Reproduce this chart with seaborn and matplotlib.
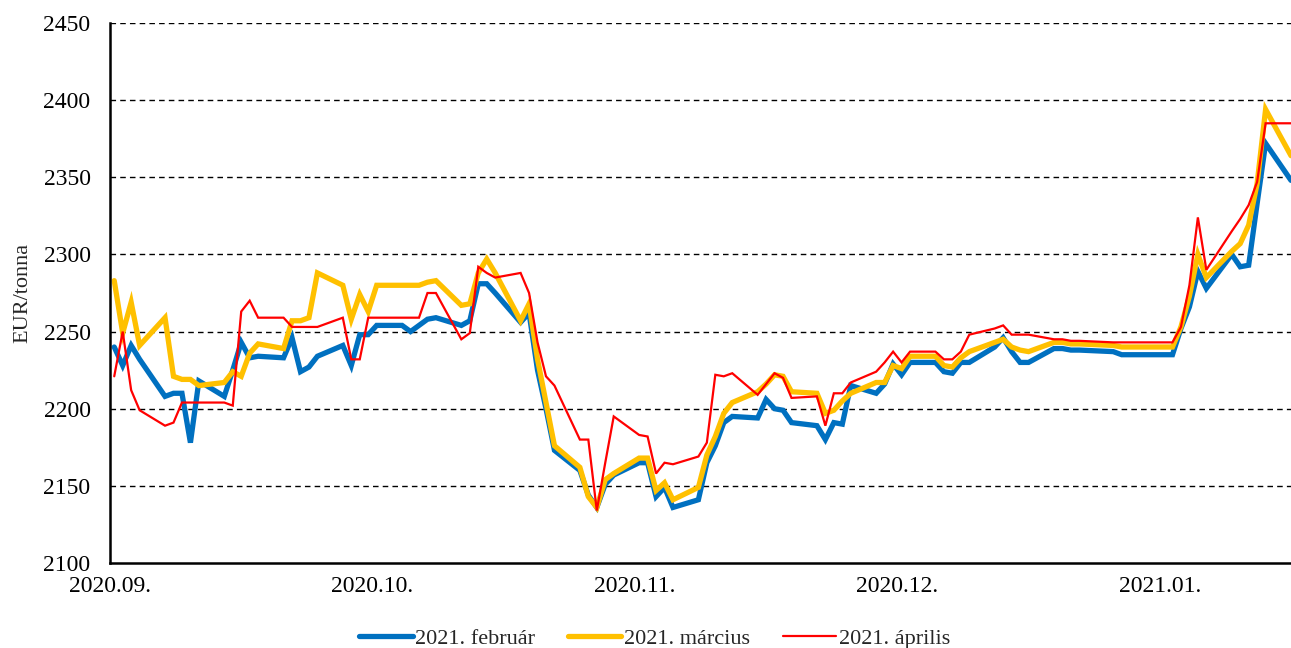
import matplotlib
matplotlib.use("Agg")
import matplotlib.pyplot as plt
import numpy as np
import pandas as pd
import seaborn as sns

# Trading days (weekdays, exchange closed on Christmas Day and New Year's Day)
trading_days = pd.bdate_range("2020-09-01", "2021-01-18").drop(
    pd.to_datetime(["2020-12-25", "2021-01-01"])
)

# Settlement prices, EUR/tonne
feb_2021 = [
    # September
    2240, 2228, 2241, 2232, 2208, 2210, 2210, 2178, 2218, 2208, 2225,
    2243, 2233, 2234, 2233, 2246, 2224, 2227, 2234, 2241, 2228, 2248,
    # October
    2248, 2254, 2254, 2250, 2254, 2258, 2259, 2254, 2257, 2281, 2281,
    2275, 2256, 2262, 2225, 2200, 2173, 2160, 2144, 2136, 2151, 2157,
    # November
    2165, 2165, 2143, 2149, 2136, 2141, 2165, 2176, 2191, 2195, 2194,
    2206, 2200, 2199, 2191, 2189, 2180, 2191, 2190, 2215, 2210,
    # December
    2216, 2229, 2222, 2230, 2230, 2224, 2223, 2230, 2230, 2240, 2246,
    2237, 2230, 2230, 2239, 2239, 2238, 2238, 2237, 2235, 2235, 2235,
    # January
    2235, 2252, 2266, 2289, 2278, 2300, 2292, 2293, 2333, 2372, 2348,
]
mar_2021 = [
    2283, 2249, 2269, 2241, 2259, 2221, 2219, 2219, 2215, 2217, 2224,
    2221, 2236, 2242, 2239, 2257, 2257, 2259, 2288, 2280, 2258, 2274,
    2263, 2280, 2280, 2280, 2280, 2282, 2283, 2267, 2268, 2288, 2297,
    2288, 2257, 2268, 2232, 2204, 2176, 2162, 2143, 2136, 2154, 2158,
    2168, 2168, 2147, 2152, 2141, 2149, 2170, 2182, 2197, 2204, 2211,
    2216, 2222, 2221, 2211, 2210, 2197, 2199, 2205, 2210, 2217,
    2217, 2228, 2226, 2234, 2234, 2228, 2227, 2233, 2237, 2243, 2245,
    2240, 2238, 2237, 2243, 2243, 2242, 2242, 2241, 2240, 2240, 2240,
    2240, 2253, 2273, 2300, 2285, 2302, 2307, 2319, 2346, 2394, 2364,
]
apr_2021 = [
    2221, 2250, 2212, 2199, 2189, 2191, 2204, 2204, 2204, 2204, 2202,
    2263, 2270, 2259, 2259, 2253, 2253, 2253, 2253, 2259, 2232, 2232,
    2259, 2259, 2259, 2259, 2259, 2275, 2275, 2245, 2249, 2292, 2288,
    2285, 2288, 2275, 2243, 2221, 2215, 2180, 2180, 2134, 2165, 2195,
    2183, 2182, 2158, 2165, 2164, 2169, 2178, 2222, 2221, 2223, 2209,
    2216, 2223, 2220, 2207, 2208, 2189, 2210, 2210, 2217, 2224,
    2230, 2237, 2230, 2237, 2237, 2232, 2232, 2237, 2248, 2252, 2254,
    2248, 2248, 2248, 2245, 2245, 2244, 2244, 2243, 2243, 2243, 2243,
    2243, 2253, 2280, 2324, 2290, 2315, 2323, 2332, 2347, 2385, 2385,
]

series_names = ["2021. február", "2021. március", "2021. április"]
series_colors = ["#0070C0", "#FFC000", "#FF0000"]
series_widths = [3.8, 3.8, 1.6]

month_labels = ["2020.09.", "2020.10.", "2020.11.", "2020.12.", "2021.01."]
y_ticks = [2100, 2150, 2200, 2250, 2300, 2350, 2400, 2450]

start = pd.Timestamp("2020-09-01")
day_index = np.array((trading_days - start).days)

frames = []
for name, values in zip(series_names, [feb_2021, mar_2021, apr_2021]):
    frames.append(pd.DataFrame({"day": day_index, "price": values, "contract": name}))
df = pd.concat(frames, ignore_index=True)

sns.set_style("white")
plt.rcParams["font.family"] = ["Liberation Serif", "DejaVu Serif"]

fig = plt.figure(figsize=(12.91, 6.48), dpi=100)
ax = fig.add_axes([110 / 1291, 85 / 648, 1181 / 1291, 540 / 648])

for name, color, lw in zip(series_names, series_colors, series_widths):
    sns.lineplot(
        data=df[df["contract"] == name], x="day", y="price",
        color=color, linewidth=lw, ax=ax, label=name,
        solid_joinstyle="miter", zorder=3,
    )

ax.set_xlim(-0.5, 139.0)
ax.set_ylim(2100, 2450)
ax.set_yticks(y_ticks)
ax.set_yticklabels([str(v) for v in y_ticks], fontsize=17)
ax.set_xticks([-0.5 + 31 * j for j in range(len(month_labels))])
ax.set_xticklabels(month_labels, fontsize=17)

for v in y_ticks[1:]:
    ax.axhline(v, color="black", linewidth=1.0, linestyle=(0, (4, 3)), zorder=1)

ax.set_xlabel("")
ax.set_ylabel("EUR/tonna", fontsize=16, labelpad=8)

for side in ["top", "right"]:
    ax.spines[side].set_visible(False)
for side in ["left", "bottom"]:
    ax.spines[side].set_color("black")
    ax.spines[side].set_linewidth(1.8)
    ax.spines[side].set_zorder(4)

ax.tick_params(axis="y", direction="out", length=7, width=1.5, pad=7, colors="black")
ax.tick_params(axis="x", direction="in", length=6, width=1.5, pad=9, colors="black")

handles, labels = ax.get_legend_handles_labels()
ax.legend_.remove()
fig.legend(
    handles, labels, loc="lower center", bbox_to_anchor=(0.507, -0.032),
    ncol=3, frameon=False, fontsize=16, handlelength=2.4,
    handletextpad=0.1, columnspacing=1.5,
)

fig.savefig("out.png", dpi=100)
